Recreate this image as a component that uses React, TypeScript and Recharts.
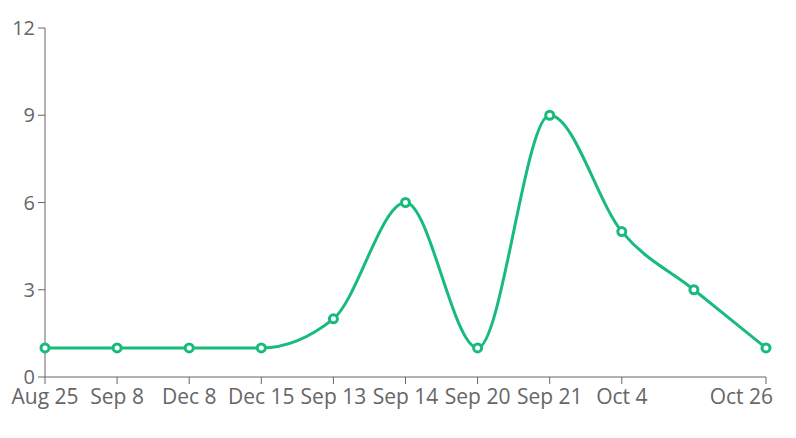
import { LineChart, Line, XAxis, YAxis } from 'recharts';

const dates = ['Aug 25', 'Sep 8', 'Dec 8', 'Dec 15', 'Sep 13', 'Sep 14', 'Sep 20', 'Sep 21', 'Oct 4', 'Oct 18', 'Oct 26'];
const counts = [1, 1, 1, 1, 2, 6, 1, 9, 5, 3, 1];
const shownTicks = ['Aug 25', 'Sep 8', 'Dec 8', 'Dec 15', 'Sep 13', 'Sep 14', 'Sep 20', 'Sep 21', 'Oct 4', 'Oct 26'];
const yTicks = [0, 3, 6, 9, 12];

const data = dates.map((d, i) => ({ date: d, value: counts[i] }));

const font = '"Open Sans", sans-serif';
const tickStyle = { fontSize: 20, fill: '#666', fontFamily: font };
const green = '#19bb7d';

// last label is pulled back inside the frame, like the original
const XTick = ({ x, y, payload }: any) => {
  const last = payload.value === dates[dates.length - 1];
  return (
    <text
      x={last ? x + 7 : x}
      y={y}
      dy="0.71em"
      textAnchor={last ? 'end' : 'middle'}
      fontSize={21}
      fill="#666"
      fontFamily={font}
    >
      {payload.value}
    </text>
  );
};

export default function App() {
  return (
    <div>
      <style>{'body{margin:0}'}</style>
      <LineChart width={796} height={438} data={data} margin={{ top: 28, right: 30, left: 0, bottom: 0 }}>
        <XAxis
          dataKey="date"
          ticks={shownTicks}
          interval={0}
          tick={<XTick />}
          tickSize={7}
          tickMargin={5}
          stroke="#666"
          height={61}
        />
        <YAxis
          domain={[0, 12]}
          ticks={yTicks}
          width={45}
          tick={tickStyle}
          tickSize={7}
          tickMargin={3}
          stroke="#666"
        />
        <Line
          type="monotone"
          dataKey="value"
          stroke={green}
          strokeWidth={3}
          dot={{ r: 4, fill: '#fff', stroke: green, strokeWidth: 3 }}
          isAnimationActive={false}
        />
      </LineChart>
    </div>
  );
}
